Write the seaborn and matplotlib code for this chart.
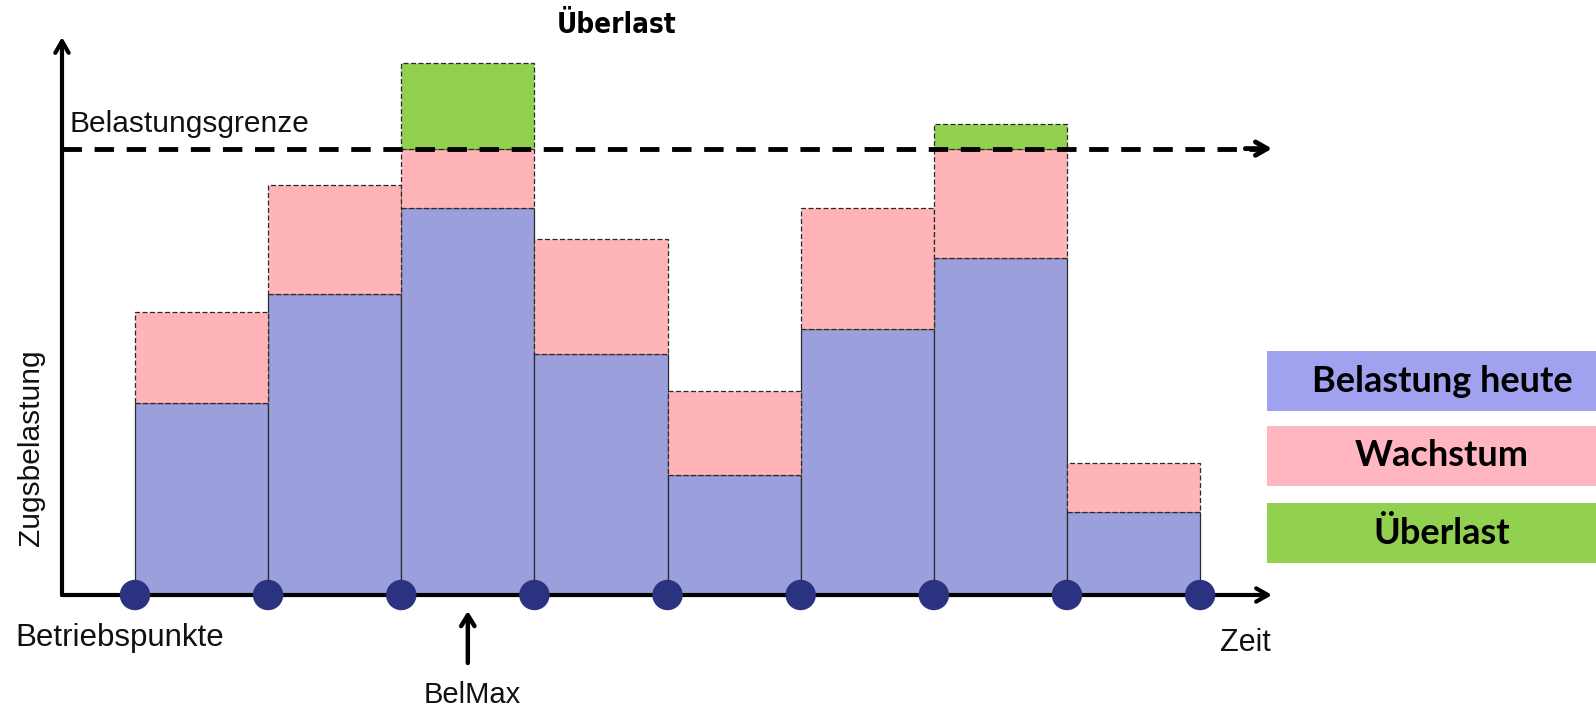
import numpy as np
import matplotlib
matplotlib.use("Agg")
import matplotlib.pyplot as plt
import matplotlib.transforms as mtransforms
from matplotlib.patches import Rectangle
import seaborn as sns

# Load per section between consecutive operating points (limit = 100)
abschnitte = np.arange(8)
belastung_heute = [43.1, 67.4, 86.6, 54.0, 26.9, 59.5, 75.6, 18.7]
wachstum = [20.2, 24.4, 13.4, 25.7, 18.9, 27.1, 24.4, 10.9]
ueberlast = [0.0, 0.0, 19.1, 0.0, 0.0, 0.0, 5.5, 0.0]
belastungsgrenze = 100
betriebspunkte = np.arange(9)
legend_labels = ["Belastung heute", "Wachstum", "Überlast"]

sns.set_theme(style="white")
plt.rcParams["font.family"] = ["Liberation Sans", "DejaVu Sans"]
plt.rcParams["text.color"] = "black"

W, H = 1596, 708
fig = plt.figure(figsize=(W / 100, H / 100), dpi=100)
fig.patch.set_facecolor("white")


def fx(px):
    return px / W


def fy(py):
    return 1 - py / H


ax = fig.add_axes([fx(62), fy(595), fx(1272 - 62), (595 - 37) / H])
x_left, x_right = -0.548, 8.54
y_top = 125.0
ax.set_xlim(x_left, x_right)
ax.set_ylim(0, y_top)
ax.axis("off")

c_blue = "#9BA0DC"
c_pink = "#FFB5B8"
c_green = "#92D050"
c_dot = "#2B3380"

heute = np.array(belastung_heute)
wachs = np.array(wachstum)
ueber = np.array(ueberlast)
xc = abschnitte + 0.5

ax.bar(xc, heute, width=1.0, color=c_blue, edgecolor="#2a2a2a",
       linewidth=0.9, zorder=2)
ax.bar(xc, wachs, bottom=heute, width=1.0, color=c_pink, edgecolor="#2a2a2a",
       linewidth=0.9, linestyle=(0, (4, 2)), zorder=2)
mask = ueber > 0
ax.bar(xc[mask], ueber[mask], bottom=(heute + wachs)[mask], width=1.0,
       color=c_green, edgecolor="#2a2a2a", linewidth=0.9,
       linestyle=(0, (4, 2)), zorder=2)

# Load limit: dashed line with an arrow head
ax.plot([x_left, x_right - 0.06], [belastungsgrenze, belastungsgrenze],
        color="black", lw=3.5, linestyle=(0, (4, 2.6)), zorder=4,
        clip_on=False, solid_capstyle="butt", dash_capstyle="butt")
ax.annotate("", xy=(x_right, belastungsgrenze),
            xytext=(x_right - 0.2, belastungsgrenze),
            arrowprops=dict(arrowstyle="->,head_length=0.7,head_width=0.4",
                            lw=3.5, color="black", shrinkA=0, shrinkB=0),
            annotation_clip=False, zorder=4)

# Axes arrows
arrow_kw = dict(arrowstyle="->,head_length=0.7,head_width=0.4", lw=3,
                color="black", shrinkA=0, shrinkB=0)
ax.annotate("", xy=(x_right, 0), xytext=(x_left, 0), arrowprops=arrow_kw,
            annotation_clip=False, zorder=3)
ax.annotate("", xy=(x_left, y_top), xytext=(x_left, 0), arrowprops=arrow_kw,
            annotation_clip=False, zorder=3)

# Operating points
sns.scatterplot(x=betriebspunkte, y=np.zeros(len(betriebspunkte)), s=480,
                color=c_dot, edgecolor="none", zorder=6, clip_on=False,
                ax=ax, legend=False)

# BelMax marker under the section with the highest load
i_max = int(np.argmax(heute + wachs + ueber))
trans = mtransforms.blended_transform_factory(ax.transData, fig.transFigure)
ax.annotate("", xy=(xc[i_max], fy(611)), xycoords=trans,
            xytext=(xc[i_max], fy(663)), textcoords=trans,
            arrowprops=dict(arrowstyle="->,head_length=0.65,head_width=0.4",
                            lw=3.2, color="black", shrinkA=0, shrinkB=0),
            annotation_clip=False)
ax.text(xc[i_max] + 0.03, fy(695), "BelMax", transform=trans, ha="center",
        va="center", fontsize=21, color="#111111")

# Labels
fig.text(fx(617), fy(25), "Überlast", ha="center", va="center", fontsize=20,
         fontweight="bold", fontstretch="condensed", family=["DejaVu Sans"])
fig.text(fx(69), fy(124), "Belastungsgrenze", ha="left", va="center",
         fontsize=21.5, color="#111111")
fig.text(fx(31), fy(448), "Zugsbelastung", ha="center", va="center",
         fontsize=21.5, rotation=90, color="#111111")
fig.text(fx(15), fy(638), "Betriebspunkte", ha="left", va="center",
         fontsize=22.5, color="#111111")
fig.text(fx(1245), fy(643), "Zeit", ha="center", va="center",
         fontsize=22, color="#111111")

# Legend boxes
legend_colors = ["#A0A2F0", "#FFB6C1", "#92D050"]
box_tops = [351, 426, 503]
for lab, col, top in zip(legend_labels, legend_colors, box_tops):
    fig.patches.append(Rectangle((fx(1267), fy(top + 60)), fx(1596 - 1267),
                                 60 / H, transform=fig.transFigure,
                                 facecolor=col, edgecolor="none"))
    fig.text(fx(1442), fy(top + 30), lab, ha="center", va="center",
             fontsize=26, fontweight="bold", color="black",
             family=["Lato", "DejaVu Sans"])

fig.savefig("out.png", dpi=100, facecolor="white")
